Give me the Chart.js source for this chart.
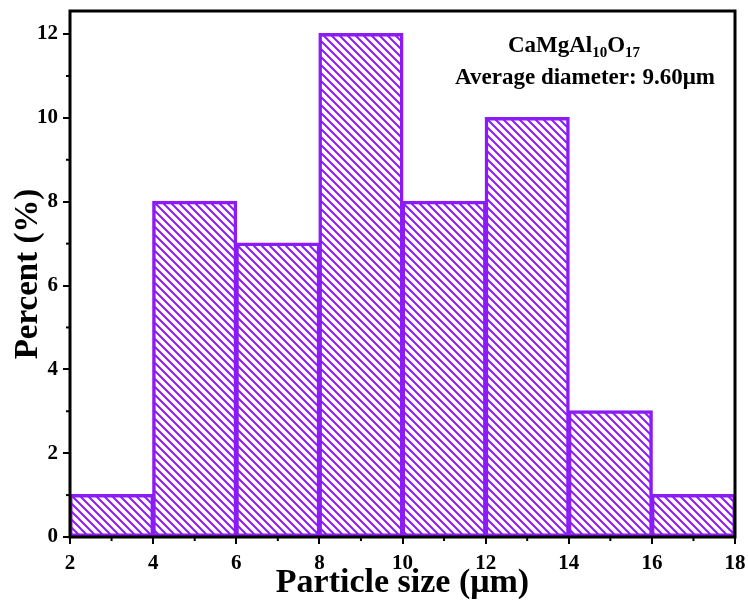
<!DOCTYPE html>
<html>
<head>
<meta charset="utf-8">
<script src="https://cdn.jsdelivr.net/npm/chart.js@4.4.1/dist/chart.umd.min.js"></script>
<style>
  html, body { margin: 0; padding: 0; background: #fff; }
  #wrap { width: 748px; height: 604px; }
</style>
</head>
<body>
<div id="wrap"><canvas id="hist"></canvas></div>
<script>
// bin centres (µm) and percent per bin
const binCentres = [3, 5, 7, 9, 11, 13, 15, 17];
const percents = [1, 8, 7, 12, 8, 10, 3, 1];
const xTicks = [2, 4, 6, 8, 10, 12, 14, 16, 18];
const yTicks = [0, 2, 4, 6, 8, 10, 12];

const purple = '#8b1cf5';
const serif = "'Liberation Serif', 'Times New Roman', serif";

// diagonal "\\" hatch
function hatch() {
  const c = document.createElement('canvas');
  c.width = 8; c.height = 8;
  const g = c.getContext('2d');
  g.strokeStyle = purple;
  g.lineWidth = 2;
  g.beginPath();
  g.moveTo(-2, -2); g.lineTo(10, 10);
  g.moveTo(-2, 6); g.lineTo(2, 10);
  g.moveTo(6, -2); g.lineTo(10, 2);
  g.stroke();
  return g.createPattern(c, 'repeat');
}

const ctxEl = document.getElementById('hist');

const frameAndText = {
  id: 'frameAndText',
  afterDraw(chart) {
    const { ctx, chartArea: a, scales } = chart;
    ctx.save();
    // minor ticks
    ctx.strokeStyle = '#000';
    ctx.lineWidth = 2;
    for (let v = 1; v < 12.5; v += 2) {
      const y = scales.y.getPixelForValue(v);
      ctx.beginPath(); ctx.moveTo(a.left, y); ctx.lineTo(a.left - 4, y); ctx.stroke();
    }
    for (let v = 3; v < 18; v += 2) {
      const x = scales.x.getPixelForValue(v);
      ctx.beginPath(); ctx.moveTo(x, a.bottom); ctx.lineTo(x, a.bottom + 4); ctx.stroke();
    }
    // box
    ctx.lineWidth = 3;
    ctx.strokeRect(a.left, a.top, a.right - a.left, a.bottom - a.top);

    // annotation
    ctx.fillStyle = '#000';
    ctx.textBaseline = 'alphabetic';
    const big = 'bold 23px ' + serif, small = 'bold 15px ' + serif;
    const parts = [['CaMgAl', big, 0], ['10', small, 5], ['O', big, 0], ['17', small, 5]];
    let w = 0;
    parts.forEach(p => { ctx.font = p[1]; w += ctx.measureText(p[0]).width; });
    let x = 574 - w / 2;
    parts.forEach(p => {
      ctx.font = p[1];
      ctx.fillText(p[0], x, 52 + p[2]);
      x += ctx.measureText(p[0]).width;
    });
    ctx.font = big;
    ctx.textAlign = 'center';
    ctx.fillText('Average diameter: 9.60\u03bcm', 585, 84);
    ctx.restore();
  }
};

new Chart(ctxEl, {
  type: 'bar',
  data: {
    datasets: [{
      data: binCentres.map((c, i) => ({ x: c, y: percents[i] })),
      backgroundColor: hatch(),
      borderColor: purple,
      borderWidth: 1.5,
      borderSkipped: false,
      inflateAmount: 1,
      barPercentage: 1,
      categoryPercentage: 1
    }]
  },
  options: {
    responsive: true,
    maintainAspectRatio: false,
    animation: false,
    layout: { padding: { left: 9, right: 13, top: 11, bottom: 0 } },
    plugins: { legend: { display: false }, tooltip: { enabled: false } },
    scales: {
      x: {
        type: 'linear',
        offset: false,
        min: 2, max: 18,
        afterBuildTicks: s => { s.ticks = xTicks.map(v => ({ value: v })); },
        afterFit: s => { s.height = 67; s.paddingLeft = 0; s.paddingRight = 0; },
        grid: { offset: false, drawOnChartArea: false, drawTicks: true, tickLength: 7, color: '#000', lineWidth: 2 },
        border: { display: false },
        ticks: { color: '#000', font: { family: serif, weight: 'bold', size: 21 }, padding: 7, maxRotation: 0 },
        title: { display: true, text: 'Particle size (\u03bcm)', color: '#000',
                 font: { family: serif, weight: 'bold', size: 34 }, padding: { top: -10, bottom: 0 } }
      },
      y: {
        min: 0, max: 12.55,
        afterBuildTicks: s => { s.ticks = yTicks.map(v => ({ value: v })); },
        afterFit: s => { s.width = 61; s.paddingTop = 0; s.paddingBottom = 0; },
        grid: { drawOnChartArea: false, drawTicks: true, tickLength: 7, color: '#000', lineWidth: 2 },
        border: { display: false },
        ticks: { color: '#000', font: { family: serif, weight: 'bold', size: 21 }, padding: 5 },
        title: { display: true, text: 'Percent (%)', color: '#000',
                 font: { family: serif, weight: 'bold', size: 33 }, padding: { top: 0, bottom: 0 } }
      }
    }
  },
  plugins: [frameAndText]
});
</script>
</body>
</html>
